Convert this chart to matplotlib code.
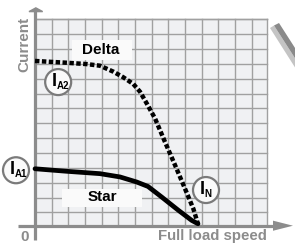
import matplotlib.pyplot as plt
from matplotlib.patches import Rectangle, Polygon, Ellipse
import numpy as np

plt.rcParams['font.family'] = ['Liberation Sans', 'DejaVu Sans']

# curves (units = grid cells)
delta_speed = [0, 1.9, 3.1, 3.9, 4.7, 5.3, 5.9, 6.3, 6.7, 7.2, 7.8, 8.4, 9.0, 9.5, 9.78]
delta_current = [11.08, 10.96, 10.87, 10.76, 10.36, 9.98, 9.53, 9.01, 8.23, 7.22, 5.63, 4.08, 2.49, 1.14, 0.11]
star_speed = [0, 1.9, 3.9, 5.1, 6.1, 6.78, 7.6, 8.6, 9.4, 9.78]
star_current = [3.83, 3.66, 3.50, 3.28, 2.94, 2.64, 1.93, 1.04, 0.36, 0.13]

# labelled points
mark_main = ['I', 'I', 'I']
mark_sub = ['A2', 'A1', 'N']
mark_x = [1.39, -1.14, 10.26]
mark_y = [9.66, 3.73, 2.40]

grey = '#8c8c8c'
paper = '#fafafa'
cell_w, cell_h = 16.67, 14.87  # pixels per unit

fig = plt.figure(figsize=(2.95, 2.44), dpi=100)
ax = fig.add_axes([0, 0, 1, 1])
ax.set_xlim(-2.1, 15.6)
ax.set_ylim(-1.23, 15.18)
ax.axis('off')

gw, gh = 13.9, 13.92
ax.add_patch(Rectangle((0, 0), gw, gh, facecolor='#f0f1f3', edgecolor='none', zorder=0))
for x in range(1, 14):
    ax.plot([x, x], [0, gh], color='#a0a0a0', lw=1, zorder=1)
ax.plot([gw, gw], [0, gh], color='#a0a0a0', lw=1, zorder=1)
for y in np.arange(0.89, gh, 1.0):
    ax.plot([0, gw], [y, y], color='#a0a0a0', lw=1, zorder=1)
ax.plot([0, gw], [gh, gh], color='#a0a0a0', lw=1, zorder=1)

# white boxes behind the curve names
ax.add_patch(Rectangle((2.22, 11.13), 3.6, 1.35, facecolor=paper, edgecolor='none', zorder=2))
ax.add_patch(Rectangle((1.62, 1.25), 4.8, 1.25, facecolor=paper, edgecolor='none', zorder=2))

# axes with arrows
ax.plot([-1.02, 14.3], [0, 0], color=grey, lw=2.3, solid_capstyle='butt', zorder=3)
ax.add_patch(Polygon([[14.28, 0.34], [14.28, -0.34], [15.48, 0]], closed=True,
                     facecolor=grey, edgecolor='none', zorder=3))
ax.plot([0, 0], [-0.96, 14.5], color=grey, lw=2.3, solid_capstyle='butt', zorder=3)
ax.add_patch(Polygon([[-0.36, 14.4], [0.46, 14.4], [0.05, 14.65]], closed=True,
                     facecolor=grey, edgecolor=grey, lw=1, zorder=3))

# curves
ax.plot(delta_speed, delta_current, color='black', lw=3.2, linestyle=(0, (1, 0.55)),
        dash_capstyle='butt', zorder=4)
ax.plot(star_speed, star_current, color='black', lw=3.4, solid_capstyle='round', zorder=4)

# circled labels
r = 13
for m, s, x, y in zip(mark_main, mark_sub, mark_x, mark_y):
    ax.add_patch(Ellipse((x, y), 2 * r / cell_w, 2 * r / cell_h, facecolor=paper,
                         edgecolor='#7a7a7a', lw=1.6, zorder=5))
    ax.text(x - 0.1, y + 0.05, m, fontsize=13, fontweight='bold', ha='right', va='center', zorder=6)
    ax.text(x - 0.1, y - 0.25, s, fontsize=7, fontweight='bold', ha='left', va='center', zorder=6)

ax.text(3.96, 11.8, 'Delta', fontsize=11, fontweight='bold', ha='center', va='center', zorder=6)
ax.text(4.02, 1.9, 'Star', fontsize=11, fontweight='bold', ha='center', va='center', zorder=6)

ax.text(-0.66, 12.2, 'Current', fontsize=11, fontweight='bold', color=grey, rotation=90,
        ha='center', va='center')
ax.text(-0.6, -0.75, '0', fontsize=11, fontweight='bold', color=grey, ha='center', va='center')
ax.text(10.65, -0.72, 'Full load speed', fontsize=10.8, fontweight='bold', color=grey,
        ha='center', va='center')

# decorative grey bar in the top-right corner, given in pixels
to_data = ax.transData.inverted()
def px(points):
    return [to_data.transform((p[0], 244 - p[1])) for p in points]

ax.add_patch(Polygon(px([[270, 28], [274, 25.5], [300, 66], [296, 69]]), closed=True,
                     facecolor='#c4c4c4', edgecolor='none', clip_on=False))
ax.add_patch(Polygon(px([[274, 25.5], [279, 23], [304, 62], [300, 66]]), closed=True,
                     facecolor='#8a8a8a', edgecolor='none', clip_on=False))

fig.savefig('out.png', dpi=100)
